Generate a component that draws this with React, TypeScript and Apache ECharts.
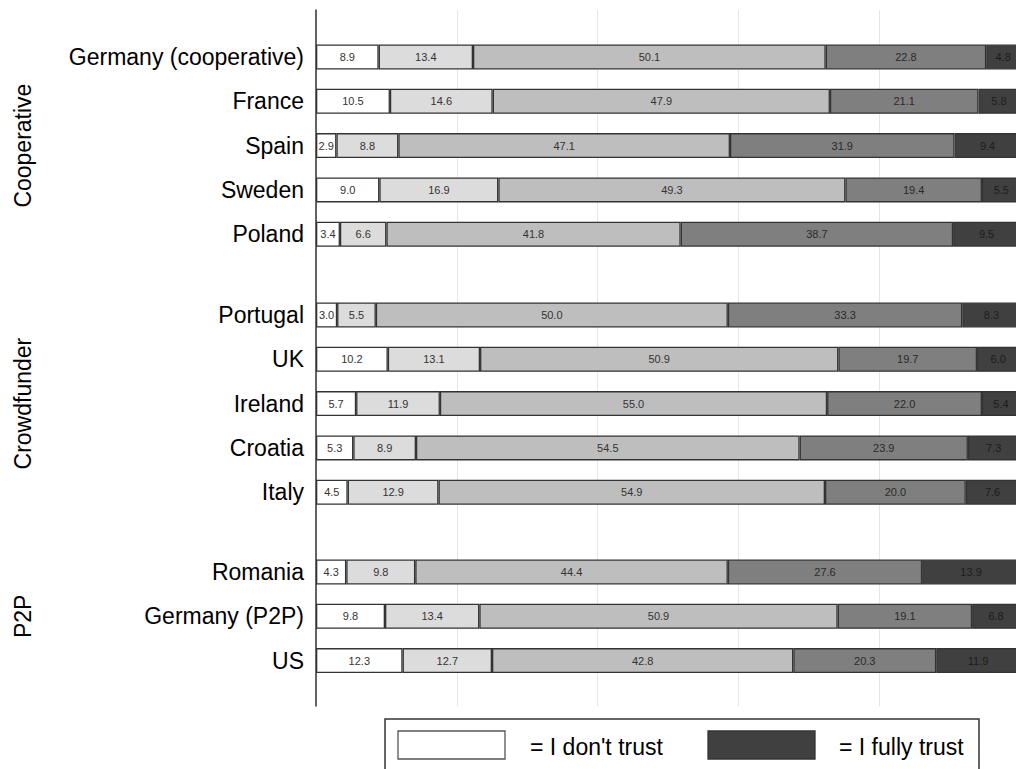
import React, { useEffect, useRef } from "react";
import * as echarts from "echarts";

const countries = [
  "Germany (cooperative)", "France", "Spain", "Sweden", "Poland",
  "Portugal", "UK", "Ireland", "Croatia", "Italy",
  "Romania", "Germany (P2P)", "US",
];
const groupNames = ["Cooperative", "Crowdfunder", "P2P"];
const groupSizes = [5, 5, 3];

const levelNames = ["I don't trust", "Level 2", "Level 3", "Level 4", "I fully trust"];
const notTrust = [8.9, 10.5, 2.9, 9.0, 3.4, 3.0, 10.2, 5.7, 5.3, 4.5, 4.3, 9.8, 12.3];
const level2 = [13.4, 14.6, 8.8, 16.9, 6.6, 5.5, 13.1, 11.9, 8.9, 12.9, 9.8, 13.4, 12.7];
const level3 = [50.1, 47.9, 47.1, 49.3, 41.8, 50.0, 50.9, 55.0, 54.5, 54.9, 44.4, 50.9, 42.8];
const level4 = [22.8, 21.1, 31.9, 19.4, 38.7, 33.3, 19.7, 22.0, 23.9, 20.0, 27.6, 19.1, 20.3];
const fullyTrust = [4.8, 5.8, 9.4, 5.5, 9.5, 8.3, 6.0, 5.4, 7.3, 7.6, 13.9, 6.8, 11.9];
const levels = [notTrust, level2, level3, level4, fullyTrust];
const xTicks = [0, 20, 40, 60, 80, 100];

const colors = ["#ffffff", "#dcdcdc", "#bebebe", "#7f7f7f", "#404040"];
const labelColors = ["#333", "#333", "#333", "#2a2a2a", "#1c1c1c"];
const FONT = "'Liberation Sans', Arial, sans-serif";

export default function App() {
  const ref = useRef<HTMLDivElement>(null);
  useEffect(() => {
    if (!ref.current) return;
    const chart = echarts.init(ref.current, null, { renderer: "svg" });

    const band = 44.3;
    const groupTops = [34.85, 292.85, 549.85];
    const plotLeft = 316;
    const plotWidth = 704;

    const grids: any[] = [];
    const xAxes: any[] = [];
    const yAxes: any[] = [];
    const series: any[] = [];

    let start = 0;
    groupSizes.forEach((size, g) => {
      const cats = countries.slice(start, start + size);
      grids.push({ left: plotLeft, width: plotWidth, top: groupTops[g], height: band * size });
      xAxes.push({ type: "value", gridIndex: g, min: 0, max: 100, show: false });
      yAxes.push({
        type: "category",
        gridIndex: g,
        data: cats,
        inverse: true,
        axisLine: { show: false },
        axisTick: { show: false },
        splitLine: { show: false },
        axisLabel: { color: "#000", fontSize: 23, fontFamily: FONT, margin: 12 },
        name: groupNames[g],
        nameLocation: "middle",
        nameGap: 282,
        nameRotate: 90,
        nameTextStyle: { color: "#000", fontSize: 23, fontFamily: FONT },
      });
      levels.forEach((arr, li) => {
        series.push({
          type: "bar",
          name: levelNames[li],
          xAxisIndex: g,
          yAxisIndex: g,
          stack: "g" + g,
          barWidth: 25,
          data: arr.slice(start, start + size),
          itemStyle: { color: colors[li], borderColor: "#333", borderWidth: 1.3 },
          label: {
            show: true,
            position: "inside",
            fontSize: 11,
            fontFamily: FONT,
            color: labelColors[li],
            formatter: (p: any) => Number(p.value).toFixed(1),
          },
          emphasis: { disabled: true },
        });
      });
      start += size;
    });

    // background grid: axis line and vertical grid lines
    grids.push({ left: plotLeft, width: plotWidth, top: 10, height: 696 });
    xAxes.push({
      type: "value",
      gridIndex: 3,
      min: xTicks[0],
      max: xTicks[xTicks.length - 1],
      interval: 20,
      axisLine: { show: false },
      axisTick: { show: false },
      axisLabel: { show: false },
      splitLine: { show: true, lineStyle: { color: "#dfe8ec", width: 1 } },
    });
    yAxes.push({
      type: "value",
      gridIndex: 3,
      min: 0,
      max: 1,
      axisLine: { show: true, lineStyle: { color: "#333", width: 1.5 } },
      axisTick: { show: false },
      axisLabel: { show: false },
      splitLine: { show: false },
    });
    series.push({ type: "line", xAxisIndex: 3, yAxisIndex: 3, data: [], silent: true });

    const legendGraphic = [
      {
        type: "rect",
        shape: { x: 385, y: 719, width: 594, height: 70 },
        style: { fill: "#fff", stroke: "#333", lineWidth: 1.5 },
      },
      {
        type: "rect",
        shape: { x: 398, y: 731, width: 107, height: 28 },
        style: { fill: colors[0], stroke: "#555", lineWidth: 1.3 },
      },
      {
        type: "text",
        x: 530,
        y: 747,
        style: { text: "= I don't trust", fill: "#000", font: `23px ${FONT}`, textVerticalAlign: "middle" },
      },
      {
        type: "rect",
        shape: { x: 708, y: 731, width: 107, height: 28 },
        style: { fill: colors[4], stroke: "#333", lineWidth: 1.3 },
      },
      {
        type: "text",
        x: 839,
        y: 747,
        style: { text: "= I fully trust", fill: "#000", font: `23px ${FONT}`, textVerticalAlign: "middle" },
      },
    ];

    chart.setOption({
      animation: false,
      backgroundColor: "#fff",
      grid: grids,
      xAxis: xAxes,
      yAxis: yAxes,
      series,
      graphic: legendGraphic,
    });
    return () => chart.dispose();
  }, []);

  return (
    <div style={{ position: "absolute", left: 0, top: 0, width: 1016, height: 769, overflow: "hidden", background: "#fff" }}>
      <div ref={ref} style={{ width: 1030, height: 769 }} />
    </div>
  );
}
